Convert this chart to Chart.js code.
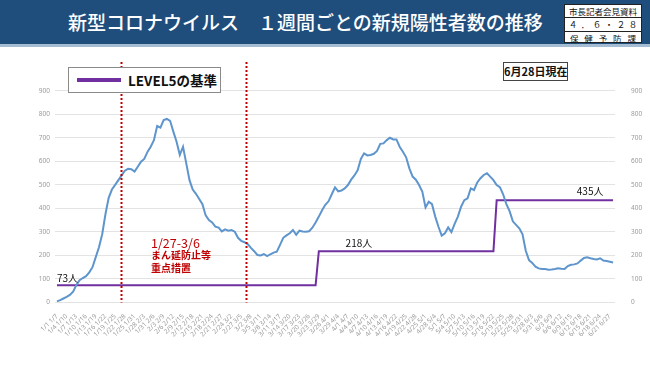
<!DOCTYPE html>
<html><head><meta charset="utf-8">
<script src="https://cdn.jsdelivr.net/npm/chart.js@4.4.0/dist/chart.umd.min.js"></script>
<style>
html,body{margin:0;padding:0;background:#fff;}
#wrap{position:relative;width:650px;height:365px;overflow:hidden;font-family:"Noto Sans CJK JP","Noto Sans",sans-serif;}
#hdr{position:absolute;left:0;top:0;width:650px;height:44px;background:#204e7c;border-bottom:3px solid #a4bdd2;}
#title{position:absolute;left:68px;top:0;height:44px;line-height:44px;color:#fff;font-size:19px;font-weight:500;white-space:nowrap;}
#stamp{position:absolute;left:564px;top:4px;width:78px;height:39px;background:#fff;border:1px solid #222;box-sizing:border-box;}
#stamp div{height:12.3px;line-height:12.3px;font-size:8.5px;color:#111;white-space:nowrap;overflow:hidden;display:flex;justify-content:space-around;padding:0 2px;}
#stamp div+div{border-top:1px solid #222;}
#legend{position:absolute;left:68px;top:67px;width:153px;height:26px;border:1px solid #8a8a8a;box-sizing:border-box;background:#fff;}
#legend .ln{position:absolute;left:8px;top:10px;width:44px;height:4px;background:#7030a0;}
#legend .tx{position:absolute;left:59px;top:0;line-height:24px;font-size:13.5px;font-weight:bold;color:#111;white-space:nowrap;}
#asof{position:absolute;left:503px;top:62px;width:65px;height:19px;border:1px solid #444;box-sizing:border-box;background:#fff;font-size:11px;font-weight:bold;line-height:17px;text-align:center;color:#111;white-space:nowrap;}
canvas{position:absolute;left:0;top:0;}
</style></head>
<body>
<div id="wrap">
<canvas id="c" width="650" height="365"></canvas>
<div id="hdr"><div id="title">新型コロナウイルス　１週間ごとの新規陽性者数の推移</div>
<div id="stamp"><div><span>市長記者会見資料</span></div><div><span>４</span><span>．</span><span>６</span><span>・</span><span>２</span><span>８</span></div><div><span>保</span><span>健</span><span>予</span><span>防</span><span>課</span></div></div></div>
<div id="legend"><div class="ln"></div><div class="tx">LEVEL5の基準</div></div>
<div id="asof">6月28日現在</div>
</div>
<script>
// weekly new positive cases (rolling 7-day totals), one value per day window
const cases = [5,10,17,24,32,46,74,95,104,112,128,150,193,235,290,375,445,480,500,520,
540,560,568,566,556,577,598,610,640,662,690,750,743,775,780,772,726,683,627,662,
591,520,480,462,440,418,370,350,340,322,318,302,311,305,308,301,275,262,256,248,
232,218,202,200,206,197,205,212,216,245,275,285,294,308,288,305,302,301,303,318,
340,365,392,415,430,460,489,472,476,485,499,522,540,562,610,634,625,627,632,644,
674,676,690,700,693,693,662,641,617,570,535,522,499,471,404,428,418,365,322,284,
294,319,299,334,365,407,435,443,485,478,510,528,542,549,535,520,499,490,460,418,
388,345,330,315,290,220,180,168,152,145,142,142,139,140,142,145,143,142,155,160,
162,166,178,189,192,188,185,183,188,178,176,173,170];
// LEVEL5 threshold (breakpoints: window index, value)
const levelX = [0,80,81,135,136,172];
const levelY = [73,73,218,218,435,435];
const yTicks = [0,100,200,300,400,500,600,700,800,900];
const firstWeekStart = [2022,1,1];
// categories: 7-day windows, labelled "start end"
const categories = cases.map((v,i)=>{
  const s = new Date(firstWeekStart[0], firstWeekStart[1]-1, firstWeekStart[2]+i);
  const e = new Date(firstWeekStart[0], firstWeekStart[1]-1, firstWeekStart[2]+i+6);
  return (s.getMonth()+1)+'/'+s.getDate()+' '+(e.getMonth()+1)+'/'+e.getDate();
});
const tickEvery = 3;
// period of priority measures (window index positions of the dotted lines)
const measureLines = [19.7, 58.4];
const notes = [
  {x:0, y:104, text:'73人', color:'#111', font:'10px "Noto Sans CJK JP"', align:'left'},
  {x:93.4, y:253, text:'218人', color:'#111', font:'10px "Noto Sans CJK JP"', align:'center'},
  {x:164.9, y:474, text:'435人', color:'#111', font:'10px "Noto Sans CJK JP"', align:'center'},
  {x:29.1, y:253, text:'1/27-3/6', color:'#c00000', font:'12.5px "Noto Sans CJK JP"', align:'left'},
  {x:29.1, y:202, text:'まん延防止等', color:'#c00000', font:'bold 10px "Noto Sans CJK JP"', align:'left'},
  {x:29.1, y:147, text:'重点措置', color:'#c00000', font:'bold 10px "Noto Sans CJK JP"', align:'left'}
];

const overlay = {
  id:'overlay',
  afterDatasetsDraw(chart){
    const ctx = chart.ctx, xs = chart.scales.x, ys = chart.scales.y;
    ctx.save();
    ctx.strokeStyle = '#c00000'; ctx.lineWidth = 2; ctx.setLineDash([2,2]);
    measureLines.forEach(v=>{
      const px = Math.round(xs.getPixelForValue(v))+0.5;
      ctx.beginPath(); ctx.moveTo(px, 62); ctx.lineTo(px, ys.getPixelForValue(0)); ctx.stroke();
    });
    ctx.setLineDash([]);
    ctx.textBaseline = 'middle';
    notes.forEach(n=>{
      ctx.font = n.font; ctx.fillStyle = n.color; ctx.textAlign = n.align;
      ctx.fillText(n.text, xs.getPixelForValue(n.x), ys.getPixelForValue(n.y));
    });
    ctx.restore();
  }
};

new Chart(document.getElementById('c'), {
  type:'line',
  data:{datasets:[
    {data:cases.map((v,i)=>({x:i,y:v})), borderColor:'#5e95cd', borderWidth:2, pointRadius:0, tension:0, yAxisID:'y'},
    {data:levelX.map((x,i)=>({x:x,y:levelY[i]})), borderColor:'#7030a0', borderWidth:2, pointRadius:0, tension:0, yAxisID:'y'}
  ]},
  options:{
    responsive:false, animation:false, maintainAspectRatio:false,
    layout:{padding:{top:90.7,left:0,right:0,bottom:0}},
    plugins:{legend:{display:false}, tooltip:{enabled:false}},
    scales:{
      x:{type:'linear', min:-0.6, max:172.6,
        afterFit(s){s.height=62.5;},
        afterBuildTicks(s){ s.ticks = categories.map((c,i)=>i).filter(i=>i%tickEvery===0).map(v=>({value:v})); },
        grid:{display:false}, border:{display:false},
        ticks:{autoSkip:false, maxRotation:45, minRotation:45, padding:2, color:'#9a9a9a', font:{size:6.5, family:'"Noto Sans"'},
          callback:(v)=>categories[v]}},
      y:{position:'left', min:0, max:900,
        afterFit(s){s.width=55;},
        afterBuildTicks(s){ s.ticks = yTicks.map(v=>({value:v})); },
        grid:{color:'#e3e3e3', lineWidth:1, drawTicks:false}, border:{display:false},
        ticks:{padding:5, color:'#9a9a9a', font:{size:6.5, family:'"Noto Sans"'}}},
      y2:{position:'right', min:0, max:900,
        afterFit(s){s.width=35;},
        afterBuildTicks(s){ s.ticks = yTicks.map(v=>({value:v})); },
        grid:{display:false}, border:{display:false},
        ticks:{padding:8, color:'#9a9a9a', font:{size:6.5, family:'"Noto Sans"'}}}
    }
  },
  plugins:[overlay]
});
</script>
</body></html>
